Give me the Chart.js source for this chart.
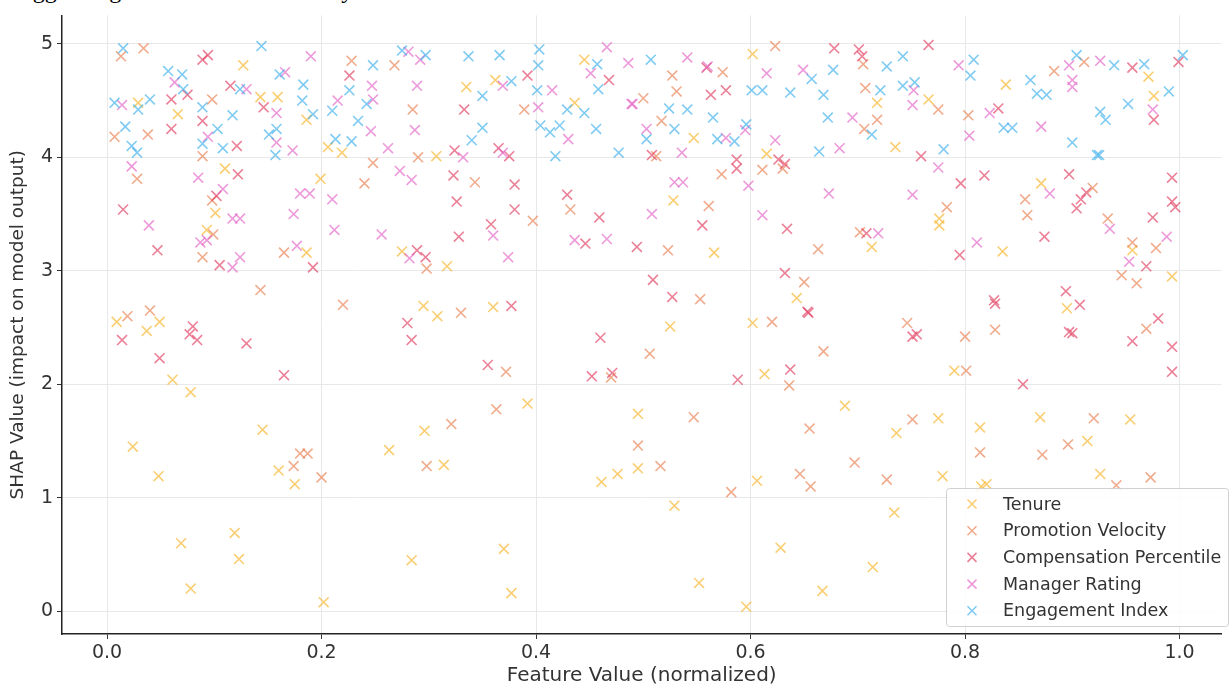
<!DOCTYPE html>
<html>
<head>
<meta charset="utf-8">
<script src="https://cdn.jsdelivr.net/npm/chart.js@4.4.1/dist/chart.umd.min.js"></script>
<style>
  body { margin: 0; background: #fff; overflow: hidden; }
  #wrap { position: relative; width: 1230px; height: 689px; overflow: hidden; }
  #title { position: absolute; left: 10px; top: -23px; font: 24px "Liberation Serif", serif; color: #000; white-space: nowrap; }
  canvas { position: absolute; left: 0; top: 0; }
</style>
</head>
<body>
<div id="wrap">
  <div id="title">Biggest Signals of Attrition Risk by Feature</div>
  <canvas id="shapChart" width="1230" height="689"></canvas>
</div>
<script>
// Data: [feature value, SHAP value]
const seriesNames = ['Tenure', 'Promotion Velocity', 'Compensation Percentile', 'Manager Rating', 'Engagement Index'];

const tenurePts = [
  [0.009,2.55],[0.049,2.55],[0.037,2.47],[0.061,2.04],[0.078,1.93],[0.145,1.6],[0.024,1.45],[0.048,1.19],[0.16,1.24],[0.175,1.12],
  [0.069,0.6],[0.119,0.69],[0.123,0.46],[0.078,0.2],[0.202,0.08],[0.295,2.69],[0.308,2.6],[0.36,2.68],[0.392,1.83],[0.296,1.59],
  [0.263,1.42],[0.314,1.29],[0.495,1.74],[0.495,1.26],[0.476,1.21],[0.461,1.14],[0.284,0.45],[0.37,0.55],[0.377,0.16],[0.602,2.54],
  [0.525,2.51],[0.613,2.09],[0.688,1.81],[0.736,1.57],[0.606,1.15],[0.529,0.93],[0.734,0.87],[0.628,0.56],[0.714,0.39],[0.552,0.25],
  [0.667,0.18],[0.596,0.04],[0.895,2.67],[0.79,2.12],[0.775,1.7],[0.814,1.62],[0.87,1.71],[0.954,1.69],[0.914,1.5],[0.779,1.19],
  [0.82,1.12],[0.815,1.1],[0.926,1.21],[0.127,4.81],[0.029,4.48],[0.143,4.53],[0.159,4.53],[0.186,4.33],[0.066,4.38],[0.206,4.09],
  [0.219,4.04],[0.11,3.9],[0.199,3.81],[0.101,3.51],[0.093,3.36],[0.186,3.16],[0.335,4.62],[0.362,4.68],[0.436,4.48],[0.445,4.86],
  [0.307,4.01],[0.275,3.17],[0.317,3.04],[0.602,4.91],[0.718,4.48],[0.547,4.17],[0.735,4.09],[0.615,4.03],[0.528,3.62],[0.566,3.16],
  [0.713,3.21],[0.643,2.76],[0.766,4.51],[0.838,4.64],[0.971,4.71],[0.976,4.54],[0.776,3.46],[0.776,3.4],[0.835,3.17],[0.871,3.77],
  [0.956,3.18],[0.993,2.95]
];

const promotionPts = [
  [0.019,2.6],[0.04,2.65],[0.18,1.39],[0.187,1.39],[0.174,1.28],[0.2,1.18],[0.22,2.7],[0.33,2.63],[0.372,2.11],[0.47,2.06],
  [0.363,1.78],[0.321,1.65],[0.298,1.28],[0.495,1.46],[0.62,2.55],[0.506,2.27],[0.668,2.29],[0.746,2.54],[0.636,1.99],[0.547,1.71],
  [0.751,1.69],[0.655,1.61],[0.516,1.28],[0.697,1.31],[0.646,1.21],[0.656,1.1],[0.727,1.16],[0.582,1.05],[0.8,2.42],[0.828,2.48],
  [0.969,2.49],[0.801,2.12],[0.814,1.4],[0.92,1.7],[0.896,1.47],[0.872,1.38],[0.941,1.11],[0.973,1.18],[0.013,4.89],[0.034,4.96],
  [0.228,4.85],[0.098,4.51],[0.007,4.18],[0.038,4.2],[0.089,4.01],[0.028,3.81],[0.098,3.62],[0.099,3.32],[0.089,3.12],[0.165,3.16],
  [0.143,2.83],[0.268,4.81],[0.285,4.42],[0.389,4.42],[0.248,3.95],[0.29,4.0],[0.24,3.77],[0.343,3.78],[0.397,3.44],[0.432,3.54],
  [0.298,3.02],[0.574,4.75],[0.527,4.72],[0.623,4.98],[0.531,4.58],[0.5,4.52],[0.705,4.82],[0.707,4.61],[0.718,4.33],[0.706,4.25],
  [0.517,4.32],[0.512,4.01],[0.573,3.85],[0.611,3.89],[0.63,3.9],[0.561,3.57],[0.523,3.18],[0.663,3.19],[0.702,3.34],[0.65,2.9],
  [0.553,2.75],[0.775,4.42],[0.803,4.37],[0.883,4.76],[0.911,4.84],[0.783,3.56],[0.856,3.63],[0.858,3.49],[0.919,3.73],[0.933,3.46],
  [0.956,3.25],[0.978,3.2],[0.946,2.96],[0.96,2.89]
];

const compensationPts = [
  [0.014,2.39],[0.08,2.51],[0.077,2.44],[0.084,2.39],[0.049,2.23],[0.13,2.36],[0.165,2.08],[0.377,2.69],[0.28,2.54],[0.284,2.39],
  [0.355,2.17],[0.46,2.41],[0.452,2.07],[0.471,2.1],[0.654,2.63],[0.751,2.42],[0.588,2.04],[0.637,2.13],[0.828,2.71],[0.907,2.7],
  [0.897,2.46],[0.9,2.45],[0.755,2.44],[0.956,2.38],[0.98,2.58],[0.993,2.33],[0.993,2.11],[0.854,2.0],[0.089,4.86],[0.094,4.9],
  [0.226,4.72],[0.075,4.55],[0.06,4.51],[0.115,4.63],[0.146,4.44],[0.06,4.25],[0.089,4.32],[0.121,4.1],[0.122,3.85],[0.102,3.66],
  [0.015,3.54],[0.047,3.18],[0.105,3.05],[0.192,3.03],[0.392,4.72],[0.333,4.42],[0.468,4.68],[0.324,4.06],[0.365,4.08],[0.375,4.01],
  [0.323,3.84],[0.38,3.76],[0.326,3.61],[0.38,3.54],[0.358,3.41],[0.328,3.3],[0.429,3.67],[0.459,3.47],[0.446,3.24],[0.494,3.21],
  [0.289,3.18],[0.297,3.12],[0.559,4.79],[0.563,4.55],[0.577,4.59],[0.678,4.96],[0.701,4.95],[0.704,4.89],[0.508,4.02],[0.587,3.98],
  [0.587,3.9],[0.626,3.98],[0.632,3.94],[0.555,3.4],[0.634,3.37],[0.708,3.33],[0.509,2.92],[0.632,2.98],[0.527,2.77],[0.653,2.64],
  [0.766,4.99],[0.831,4.43],[0.956,4.79],[0.976,4.33],[0.999,4.84],[0.759,4.01],[0.796,3.77],[0.818,3.84],[0.795,3.14],[0.897,3.85],
  [0.874,3.3],[0.908,3.63],[0.913,3.69],[0.904,3.55],[0.975,3.47],[0.993,3.82],[0.993,3.61],[0.996,3.56],[0.969,3.04],[0.894,2.82],
  [0.827,2.74]
];

const managerPts = [
  [0.19,4.89],[0.063,4.66],[0.014,4.46],[0.13,4.6],[0.166,4.75],[0.158,4.39],[0.215,4.5],[0.094,4.18],[0.158,4.13],[0.173,4.06],
  [0.023,3.92],[0.085,3.82],[0.108,3.72],[0.18,3.68],[0.189,3.68],[0.21,3.63],[0.117,3.46],[0.124,3.46],[0.174,3.5],[0.039,3.4],
  [0.212,3.36],[0.087,3.25],[0.093,3.27],[0.117,3.03],[0.124,3.12],[0.177,3.22],[0.281,4.93],[0.292,4.86],[0.247,4.63],[0.248,4.51],
  [0.246,4.23],[0.289,4.63],[0.287,4.24],[0.369,4.63],[0.415,4.59],[0.402,4.44],[0.43,4.16],[0.451,4.74],[0.466,4.97],[0.486,4.83],
  [0.489,4.47],[0.262,4.08],[0.332,4.0],[0.369,4.04],[0.273,3.88],[0.284,3.8],[0.36,3.31],[0.256,3.32],[0.436,3.27],[0.466,3.28],
  [0.374,3.12],[0.282,3.11],[0.541,4.88],[0.56,4.8],[0.615,4.74],[0.49,4.47],[0.649,4.77],[0.752,4.59],[0.751,4.46],[0.695,4.35],
  [0.503,4.25],[0.577,4.17],[0.595,4.24],[0.623,4.15],[0.683,4.08],[0.536,4.04],[0.598,3.75],[0.529,3.78],[0.537,3.78],[0.508,3.5],
  [0.673,3.68],[0.611,3.49],[0.719,3.33],[0.751,3.67],[0.794,4.81],[0.804,4.19],[0.823,4.39],[0.871,4.27],[0.897,4.81],[0.9,4.68],
  [0.9,4.62],[0.926,4.85],[0.975,4.42],[0.775,3.91],[0.811,3.25],[0.879,3.68],[0.935,3.37],[0.988,3.3],[0.953,3.08]
];

const engagementPts = [
  [0.015,4.96],[0.144,4.98],[0.057,4.76],[0.07,4.73],[0.071,4.6],[0.007,4.48],[0.04,4.51],[0.029,4.42],[0.124,4.6],[0.161,4.73],
  [0.183,4.64],[0.182,4.5],[0.192,4.38],[0.21,4.41],[0.234,4.32],[0.017,4.27],[0.089,4.44],[0.117,4.37],[0.103,4.25],[0.089,4.12],
  [0.108,4.08],[0.023,4.1],[0.028,4.04],[0.151,4.2],[0.158,4.25],[0.157,4.02],[0.213,4.16],[0.228,4.14],[0.275,4.94],[0.297,4.9],
  [0.248,4.81],[0.226,4.59],[0.242,4.47],[0.337,4.89],[0.366,4.9],[0.403,4.95],[0.402,4.81],[0.377,4.67],[0.35,4.54],[0.401,4.59],
  [0.35,4.26],[0.34,4.15],[0.404,4.28],[0.413,4.22],[0.422,4.28],[0.429,4.42],[0.445,4.39],[0.456,4.25],[0.457,4.82],[0.458,4.6],
  [0.477,4.04],[0.418,4.01],[0.507,4.86],[0.524,4.43],[0.541,4.42],[0.565,4.35],[0.601,4.59],[0.611,4.59],[0.637,4.57],[0.668,4.55],
  [0.657,4.69],[0.677,4.77],[0.727,4.8],[0.742,4.89],[0.742,4.63],[0.721,4.59],[0.672,4.35],[0.713,4.2],[0.503,4.16],[0.529,4.25],
  [0.569,4.16],[0.585,4.14],[0.596,4.29],[0.664,4.05],[0.808,4.86],[0.805,4.72],[0.753,4.66],[0.836,4.26],[0.844,4.26],[0.861,4.68],
  [0.867,4.56],[0.876,4.55],[0.904,4.9],[0.939,4.81],[0.967,4.82],[0.99,4.58],[1.003,4.9],[0.926,4.4],[0.931,4.33],[0.952,4.47],
  [0.9,4.13],[0.923,4.02],[0.925,4.02],[0.78,4.07]
];

const xTicks = [0, 0.2, 0.4, 0.6, 0.8, 1.0];
const yTicks = [0, 1, 2, 3, 4, 5];

const seriesColors = [
  'rgba(247,180,40,0.65)',
  'rgba(232,128,80,0.65)',
  'rgba(225,60,95,0.65)',
  'rgba(228,100,200,0.65)',
  'rgba(60,175,235,0.65)'
];

const allPts = [tenurePts, promotionPts, compensationPts, managerPts, engagementPts];

const datasets = allPts.map((pts, i) => ({
  label: seriesNames[i],
  data: pts.map(p => ({ x: p[0], y: p[1] })),
  pointStyle: 'crossRot',
  pointRadius: 7,
  pointHoverRadius: 7,
  borderWidth: 1.6,
  borderColor: seriesColors[i],
  backgroundColor: seriesColors[i],
  order: 5 - i
}));

// legend box in lower right of the plot, matplotlib style
const boxLegend = {
  id: 'boxLegend',
  afterDraw(chart) {
    const ctx = chart.ctx;
    const area = chart.chartArea;
    const w = 282, h = 138;
    const x0 = 946, y0 = area.bottom - h - 8;
    ctx.save();
    ctx.fillStyle = 'rgba(255,255,255,0.85)';
    ctx.strokeStyle = '#d0d0d0';
    ctx.lineWidth = 1;
    ctx.beginPath();
    ctx.roundRect(x0 + 0.5, y0 + 0.5, w, h, 3);
    ctx.fill();
    ctx.stroke();
    ctx.font = '17.5px "DejaVu Sans"';
    ctx.textBaseline = 'middle';
    seriesNames.forEach((name, i) => {
      const cy = y0 + 16 + i * 26.7;
      const cx = x0 + 26;
      ctx.strokeStyle = seriesColors[i];
      ctx.lineWidth = 1.6;
      ctx.beginPath();
      ctx.moveTo(cx - 4.5, cy - 4.5); ctx.lineTo(cx + 4.5, cy + 4.5);
      ctx.moveTo(cx + 4.5, cy - 4.5); ctx.lineTo(cx - 4.5, cy + 4.5);
      ctx.stroke();
      ctx.fillStyle = '#333';
      ctx.fillText(name, x0 + 57, cy + 1);
    });
    ctx.restore();
  }
};

const tickFont = { family: 'DejaVu Sans', size: 19 };

new Chart(document.getElementById('shapChart'), {
  type: 'scatter',
  data: { datasets },
  options: {
    responsive: false,
    animation: false,
    devicePixelRatio: 1,
    layout: { padding: { top: 12, right: 0, left: 0, bottom: 0 } },
    plugins: { legend: { display: false }, tooltip: { enabled: false } },
    scales: {
      x: {
        type: 'linear',
        min: -0.042,
        max: 1.039,
        afterBuildTicks: axis => { axis.ticks = xTicks.map(v => ({ value: v })); },
        afterFit: scale => { scale.height = 55; },
        ticks: { color: '#333', font: tickFont, padding: 3, callback: v => v.toFixed(1), maxRotation: 0 },
        grid: { color: '#e8e8e8', lineWidth: 1, tickColor: '#333', tickLength: 5 },
        border: { display: true, color: '#222', width: 1.5 },
        title: { display: true, text: 'Feature Value (normalized)', color: '#333', font: { family: 'DejaVu Sans', size: 20 }, padding: { top: 0, bottom: 1 } }
      },
      y: {
        type: 'linear',
        min: -0.2,
        max: 5.25,
        afterBuildTicks: axis => { axis.ticks = yTicks.map(v => ({ value: v })); },
        afterFit: scale => { scale.width = 62; },
        ticks: { color: '#333', font: tickFont, padding: 4 },
        grid: { color: '#e8e8e8', lineWidth: 1, tickColor: '#333', tickLength: 5 },
        border: { display: true, color: '#222', width: 1.5 },
        title: { display: true, text: 'SHAP Value (impact on model output)', color: '#333', font: { family: 'DejaVu Sans', size: 18.5 }, padding: { top: 7, bottom: 0 } }
      }
    }
  },
  plugins: [boxLegend]
});
</script>
</body>
</html>
